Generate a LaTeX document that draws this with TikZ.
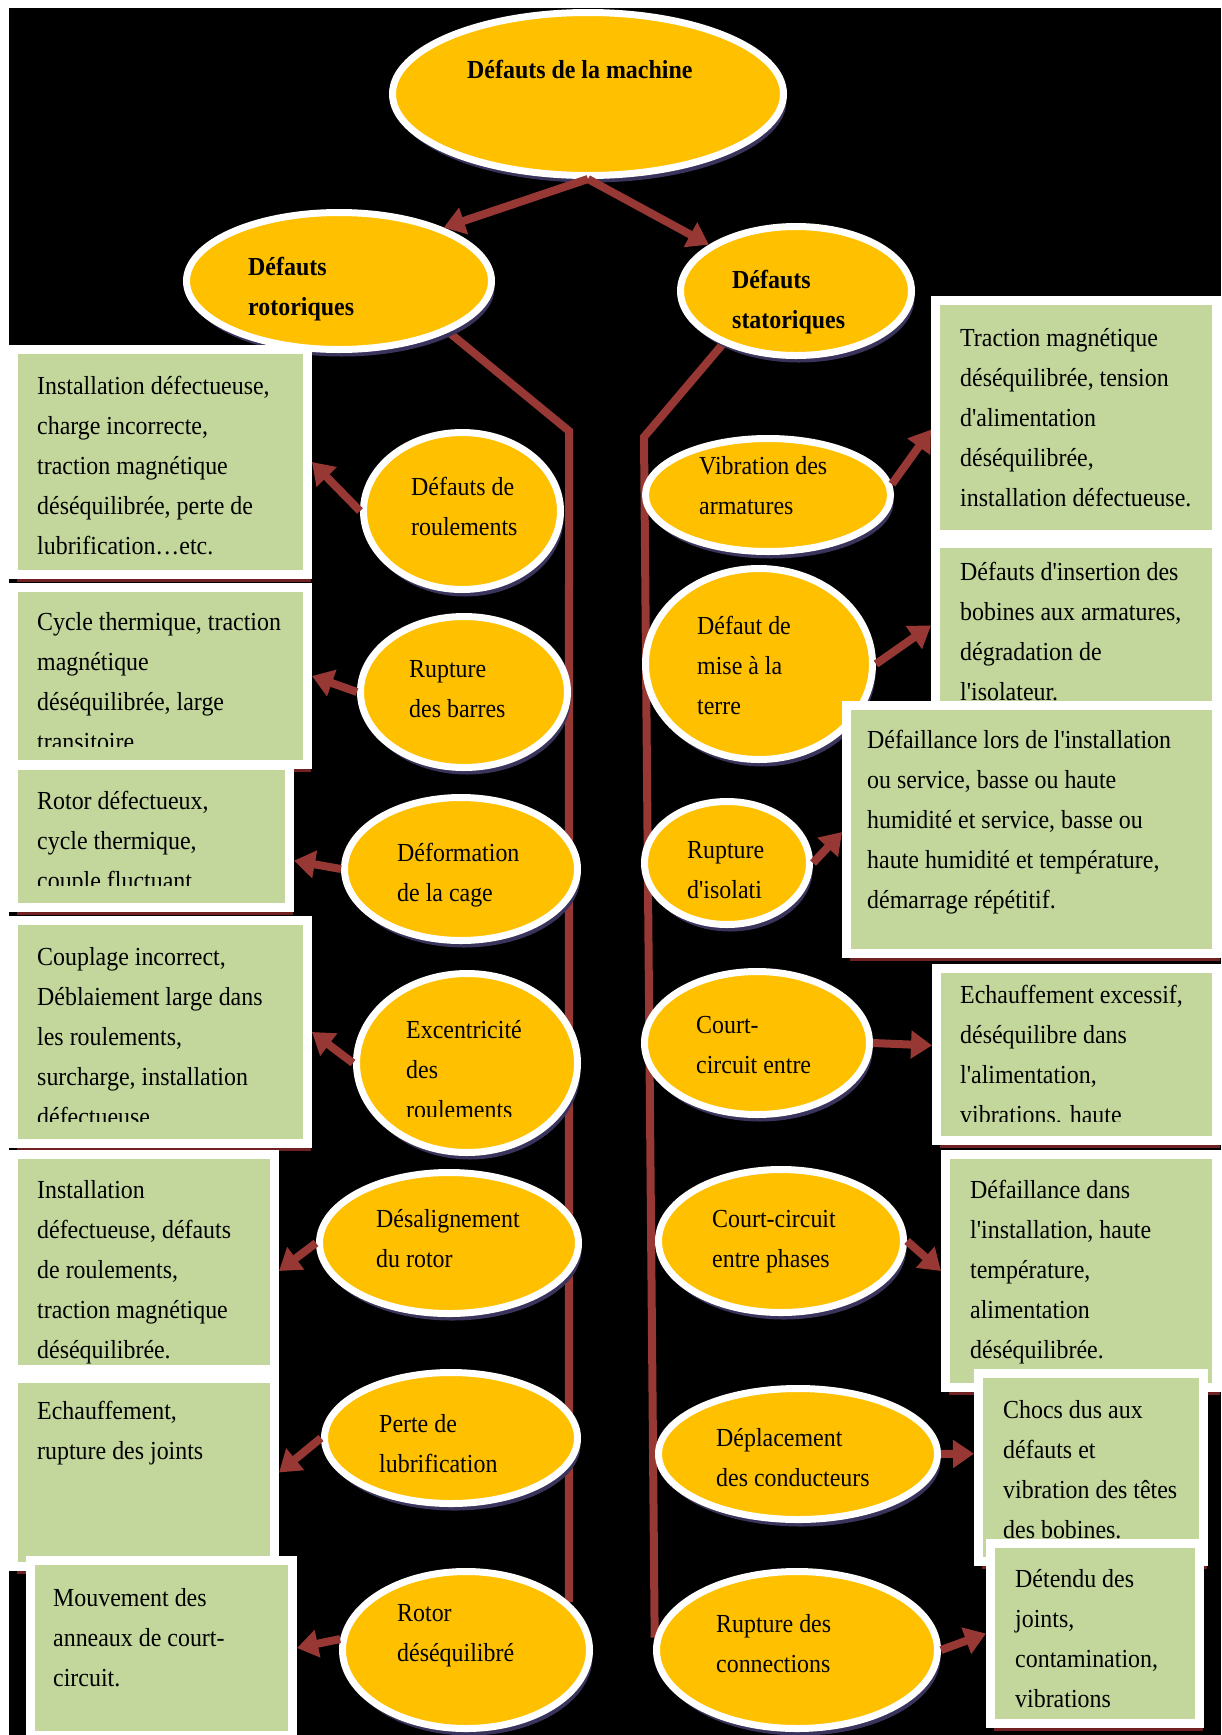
\documentclass[tikz,border=0pt]{standalone}
\usepackage{fontspec}
\setmainfont{Liberation Serif}[FakeStretch=0.92, Ligatures=TeXOff]
\usetikzlibrary{arrows.meta,shapes.geometric,shadows,calc}
\pgfdeclarelayer{fond}
\pgfdeclarelayer{axes}
\pgfsetlayers{fond,axes,main}

\definecolor{jaune}{RGB}{255,192,0}
\definecolor{vert}{RGB}{195,214,155}
\definecolor{rouge}{RGB}{152,56,52}
\definecolor{ombrebulle}{RGB}{58,52,92}
\definecolor{ombrecadre}{RGB}{112,34,34}

\begin{document}
\begin{tikzpicture}[x=1pt,y=-1pt,
  bulle/.style 2 args={ellipse, draw=white, line width=7pt, fill=jaune, inner sep=0pt,
    minimum width=2*#1pt-7pt, minimum height=2*#2pt-7pt,
    drop shadow={shadow xshift=3pt, shadow yshift=-7pt, fill=ombrebulle, opacity=1}},
  cadre/.style 2 args={rectangle, draw=white, line width=9pt, fill=vert, inner sep=0pt,
    minimum width=#1pt-9pt, minimum height=#2pt-9pt,
    drop shadow={shadow xshift=3pt, shadow yshift=-7pt, fill=ombrecadre, opacity=1}},
  texte/.style={anchor=north west, align=left, inner sep=0pt, font=\fontsize{26}{40}\selectfont},
  titre/.style={anchor=north west, align=left, inner sep=0pt, font=\fontsize{26}{40}\selectfont\bfseries},
  fleche/.style={draw=rouge, line width=8pt, -{Triangle[width=27pt,length=21pt]}},
  branche/.style={draw=rouge, line width=8pt, line join=miter},
]
\useasboundingbox (0,0) rectangle (1221,1735);

% page background
\begin{pgfonlayer}{fond}
  \fill[white] (0,0) rectangle (1221,1735);
  \fill[black] (9,8) rectangle (1221,1735);
\end{pgfonlayer}

% ---- ellipses ----
\node[bulle={199}{85}] (top)  at (588,94)  {};
\node[bulle={156}{72}] (rot)  at (339,281) {};
\node[bulle={119}{68}] (stat) at (796,291) {};

\node[bulle={102}{82}] (L1) at (462,511)  {};
\node[bulle={107}{79}] (L2) at (464,692)  {};
\node[bulle={120}{75}] (L3) at (461,869)  {};
\node[bulle={114}{93}] (L4) at (467,1063) {};
\node[bulle={133}{74}] (L5) at (449,1243) {};
\node[bulle={130}{69}] (L6) at (451,1438) {};
\node[bulle={127}{82}] (L7) at (466,1650) {};

\node[bulle={126}{60}] (R1) at (768,495)  {};
\node[bulle={117}{99}] (R2) at (759,664)  {};
\node[bulle={86}{65}]  (R3) at (727,863)  {};
\node[bulle={116}{75}] (R4) at (757,1043) {};
\node[bulle={126}{75}] (R5) at (781,1241) {};
\node[bulle={143}{69}] (R6) at (798,1454) {};
\node[bulle={144}{82}] (R7) at (797,1650) {};

% ---- vertical branches behind the ellipses ----
\coordinate (lbend) at (569,431);
\coordinate (rbend) at (644,437);
\begin{pgfonlayer}{axes}
  \draw[branche] (rot.-25) -- (lbend) -- (L7.25);
  \draw[branche] (stat.-144) -- (rbend) -- (R7.175);
\end{pgfonlayer}

% ---- ellipse labels ----
\node[titre] (tTop)  at (467,50)  {\strut Défauts de la machine};
\node[titre] (tRot)  at (248,247) {\strut Défauts\\rotoriques};
\node[titre] (tStat) at (732,260) {\strut Défauts\\statoriques};

\node[texte] (tE1) at (411,467)  {\strut Défauts de\\roulements};
\node[texte] (tE2) at (409,649)  {\strut Rupture\\des barres};
\node[texte] (tE3) at (397,833)  {\strut Déformation\\de la cage};
\begin{scope}
  \clip (380,1000) rectangle (575,1116);
  \node[texte] (tE4) at (406,1010) {\strut Excentricité\\des\\roulements};
\end{scope}
\node[texte] (tE5) at (376,1199) {\strut Désalignement\\du rotor};
\node[texte] (tE6) at (379,1404) {\strut Perte de\\lubrification};
\node[texte] (tE7) at (397,1593) {\strut Rotor\\déséquilibré};

\node[texte] (tF1) at (699,446)  {\strut Vibration des\\armatures};
\node[texte] (tF2) at (697,606)  {\strut Défaut de\\mise à la\\terre};
\begin{scope}
  \clip (660,820) rectangle (800,898);
  \node[texte] (tF3) at (687,830) {\strut Rupture\\d'isolati};
\end{scope}
\node[texte] (tF4) at (696,1005) {\strut Court-\\circuit entre};
\node[texte] (tF5) at (712,1199) {\strut Court-circuit\\entre phases};
\node[texte] (tF6) at (716,1418) {\strut Déplacement\\des conducteurs};
\node[texte] (tF7) at (716,1604) {\strut Rupture des\\connections};

% ---- left boxes ----
\node[cadre={303}{234}] (bL1) at (160.5,462) {};
\node[texte] (tL1) at (37,366) {\strut Installation défectueuse,\\charge incorrecte,\\traction magnétique\\déséquilibrée, perte de\\lubrification…etc.};

\node[cadre={303}{186}] (bL2) at (160.5,676) {};
\begin{scope}
  \clip (18,592) rectangle (303,746);
  \node[texte] (tL2) at (37,602) {\strut Cycle thermique, traction\\magnétique\\déséquilibrée, large\\transitoire};
\end{scope}

\node[cadre={285}{151}] (bL3) at (151.5,836.5) {};
\begin{scope}
  \clip (18,770) rectangle (285,885);
  \node[texte] (tL3) at (37,781) {\strut Rotor défectueux,\\cycle thermique,\\couple fluctuant.};
\end{scope}

\node[cadre={303}{232}] (bL4) at (160.5,1032) {};
\begin{scope}
  \clip (18,925) rectangle (303,1121);
  \node[texte] (tL4) at (37,937) {\strut Couplage incorrect,\\Déblaiement large dans\\les roulements,\\surcharge, installation\\défectueuse};
\end{scope}

\node[cadre={270}{224}] (bL5) at (144,1262) {};
\node[texte] (tL5) at (37,1170) {\strut Installation\\défectueuse, défauts\\de roulements,\\traction magnétique\\déséquilibrée.};

\node[cadre={270}{197}] (bL6) at (144,1472.5) {};
\node[texte] (tL6) at (37,1391) {\strut Echauffement,\\rupture des joints};

\node[cadre={271}{184}] (bL7) at (161.5,1648) {};
\node[texte] (tL7) at (53,1578) {\strut Mouvement des\\anneaux de court-\\circuit.};

% ---- right boxes ----
\node[cadre={290}{243}] (bR1) at (1076,417.5) {};
\node[texte] (tR1) at (960,318) {\strut Traction magnétique\\déséquilibrée, tension\\d'alimentation\\déséquilibrée,\\installation défectueuse.};

\node[cadre={290}{173}] (bR2) at (1076,625.5) {};
\node[texte] (tR2) at (960,552) {\strut Défauts d'insertion des\\bobines aux armatures,\\dégradation de\\l'isolateur.};

\node[cadre={379}{257}] (bR3) at (1031.5,829.5) {};
\node[texte] (tR3) at (867,720) {\strut Défaillance lors de l'installation\\ou service, basse ou haute\\humidité et service, basse ou\\haute humidité et température,\\démarrage répétitif.};

\node[cadre={289}{181}] (bR4) at (1076.5,1054.5) {};
\begin{scope}
  \clip (941,973) rectangle (1212,1121);
  \node[texte] (tR4) at (960,975) {\strut Echauffement excessif,\\déséquilibre dans\\l'alimentation,\\vibrations. haute};
\end{scope}

\node[cadre={280}{242}] (bR5) at (1081,1271) {};
\node[texte] (tR5) at (970,1170) {\strut Défaillance dans\\l'installation, haute\\température,\\alimentation\\déséquilibrée.};

\node[cadre={234}{197}] (bR6) at (1091,1467.5) {};
\node[texte] (tR6) at (1003,1390) {\strut Chocs dus aux\\défauts et\\vibration des têtes\\des bobines.};

\node[cadre={218}{189}] (bR7) at (1095,1633.5) {};
\node[texte] (tR7) at (1015,1559) {\strut Détendu des\\joints,\\contamination,\\vibrations};

% ---- arrows ----
\draw[fleche] (top.south) -- (rot.27);
\draw[fleche] (top.south) -- (stat.152);

\draw[fleche] (L1.west) -- (bL1.east);
\draw[fleche] (L2.west) -- (bL2.east);
\draw[fleche] (L3.west) -- ($(bL3.north east)!0.66!(bL3.south east)$);
\draw[fleche] (L4.west) -- (bL4.east);
\draw[fleche] (L5.west) -- ($(bL5.north east)!0.54!(bL5.south east)$);
\draw[fleche] (L6.west) -- (bL6.east);
\draw[fleche] (L7.175) -- (bL7.east);

\draw[fleche] (R1.5) -- ($(bR1.north west)!0.55!(bR1.south west)$);
\draw[fleche] (R2.east) -- ($(bR2.north west)!0.5!(bR2.south west)$);
\draw[fleche] (R3.east) -- ($(bR3.north west)!0.51!(bR3.south west)$);
\draw[fleche] (R4.east) -- ($(bR4.north west)!0.45!(bR4.south west)$);
\draw[fleche] (R5.east) -- (bR5.west);
\draw[fleche] (R6.east) -- ($(bR6.north west)!0.43!(bR6.south west)$);
\draw[fleche] (R7.east) -- (bR7.west);
\end{tikzpicture}
\end{document}
